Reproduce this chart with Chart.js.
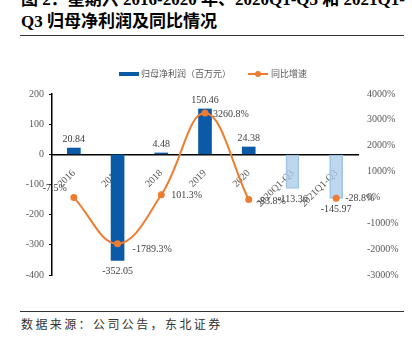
<!DOCTYPE html>
<html>
<head>
<meta charset="utf-8">
<script src="https://cdn.jsdelivr.net/npm/chart.js@4"></script>
<style>
  html, body { margin: 0; padding: 0; background: #fff; }
  body { width: 412px; height: 338px; position: relative; overflow: hidden; }
  .t1, .t2 { position: absolute; left: 21px; white-space: nowrap; font-weight: bold; font-size: 17px; line-height: 17px; color: #000;
    font-family: "Liberation Serif", "Noto Sans CJK SC", serif; }
  .t1 { top: -9px; }
  .t2 { top: 13px; }
  .rule { position: absolute; left: 20px; width: 384px; height: 1px; background: #333; }
  .src { position: absolute; left: 21px; top: 318px; font-size: 12px; line-height: 12px; letter-spacing: 2.4px; color: #333;
    font-family: "Noto Sans CJK SC", sans-serif; white-space: nowrap; }
  #wrap { position: absolute; left: 0; top: 60px; width: 412px; height: 230px; }
</style>
</head>
<body>
<div class="t1">图 2：星期六 2016-2020 年、2020Q1-Q3 和 2021Q1-</div>
<div class="t2">Q3 归母净利润及同比情况</div>
<div class="rule" style="top:35px"></div>
<div id="wrap"><canvas id="chart"></canvas></div>
<div class="rule" style="top:311px"></div>
<div class="src">数据来源：公司公告，东北证券</div>

<script>
// ---------------- DATA ----------------
const categories = ["2016", "2017", "2018", "2019", "2020", "2020Q1-Q3", "2021Q1-Q3"];
const profit = [20.84, -352.05, 4.48, 150.46, 24.38, -113.36, -145.97];   // 百万元
const growth = [-7.5, -1789.3, 101.3, 3260.8, -83.8, null, -28.8];         // %
const profitTicks = [-400, -300, -200, -100, 0, 100, 200];
const growthTicks = [-3000, -2000, -1000, 0, 1000, 2000, 3000, 4000];

const SERIF = "'Liberation Serif', 'Noto Sans CJK SC', serif";
const CJK = "'Noto Sans CJK SC', sans-serif";
const DARK = "#0b5aa8";
const LIGHT = "rgba(167,202,232,0.75)";   // looks like #bdd7ee, lets axis text show through
const ORANGE = "#ed7d31";

// label offsets for the growth points: [dx, dy, align]
const growthLabelPos = [[-7, -9, "right"], [15, 6, "left"], [10, 1, "left"], [8, 1, "left"], [8, 2, "left"], null, [9, 0, "left"]];

// ---------------- PLUGINS ----------------
const valueLabels = {
    id: "valueLabels",
    afterDatasetsDraw(chart) {
        const ctx = chart.ctx;
        ctx.save();
        ctx.font = "10px " + SERIF;
        ctx.fillStyle = "#404040";
        ctx.textBaseline = "middle";

        ctx.textAlign = "center";
        chart.getDatasetMeta(1).data.forEach((bar, i) => {
            const v = profit[i];
            const y = v >= 0 ? bar.y - 9 : bar.y + 11;
            ctx.fillText(v.toFixed(2), bar.x, y);
        });

        chart.getDatasetMeta(0).data.forEach((pt, i) => {
            const p = growthLabelPos[i];
            if (growth[i] === null || !p) return;
            ctx.textAlign = p[2];
            ctx.fillText(growth[i].toFixed(1) + "%", pt.x + p[0], pt.y + p[1]);
        });
        ctx.restore();
    }
};

const legendBox = {
    id: "legendBox",
    afterDraw(chart) {
        const ctx = chart.ctx;
        const ds = chart.data.datasets;
        ctx.save();
        ctx.font = "9px " + CJK;
        ctx.textBaseline = "middle";

        ctx.fillStyle = DARK;
        ctx.fillRect(119, 12, 20, 4);
        ctx.fillStyle = "#595959";
        ctx.fillText(ds[1].label, 141, 14);

        ctx.strokeStyle = ORANGE;
        ctx.lineWidth = 2;
        ctx.beginPath();
        ctx.moveTo(248, 14);
        ctx.lineTo(268, 14);
        ctx.stroke();
        ctx.fillStyle = ORANGE;
        ctx.beginPath();
        ctx.arc(258, 14, 3, 0, Math.PI * 2);
        ctx.fill();
        ctx.fillStyle = "#595959";
        ctx.fillText(ds[0].label, 271, 14);
        ctx.restore();
    }
};

// ---------------- CHART ----------------
new Chart(document.getElementById("chart"), {
    data: {
        labels: categories,
        datasets: [
            {
                type: "line",
                label: "同比增速",
                data: growth,
                yAxisID: "y1",
                order: 0,
                borderColor: ORANGE,
                backgroundColor: ORANGE,
                borderWidth: 2,
                pointRadius: 3.5,
                pointBackgroundColor: ORANGE,
                pointBorderWidth: 0,
                tension: 0.4,
                spanGaps: false
            },
            {
                type: "bar",
                label: "归母净利润（百万元）",
                data: profit,
                yAxisID: "y",
                order: 1,
                barThickness: 13,
                backgroundColor: categories.map((c, i) => i < 5 ? DARK : LIGHT),
                borderColor: categories.map((c, i) => i < 5 ? DARK : "#9dc3e6"),
                borderWidth: categories.map((c, i) => i < 5 ? 0 : 1)
            }
        ]
    },
    options: {
        responsive: true,
        maintainAspectRatio: false,
        animation: false,
        layout: { padding: { top: 34, bottom: 13, left: 0, right: 0 } },
        plugins: {
            legend: { display: false },
            tooltip: { enabled: false }
        },
        scales: {
            x: {
                position: { y: 0 },
                offset: true,
                grid: { display: false },
                border: { display: true, color: "#000", width: 1.5 },
                ticks: {
                    autoSkip: false,
                    minRotation: 45,
                    maxRotation: 45,
                    padding: 5,
                    color: "#595959",
                    font: { family: SERIF, size: 10 }
                }
            },
            y: {
                position: "left",
                min: profitTicks[0],
                max: profitTicks[profitTicks.length - 1],
                afterBuildTicks: s => { s.ticks = profitTicks.map(v => ({ value: v })); },
                afterFit: s => { s.width = 52; },
                grid: { display: true, drawOnChartArea: false, drawTicks: true, tickLength: 3, color: "#000" },
                border: { display: true, color: "#000", width: 1.5 },
                ticks: { padding: 5, color: "#595959", font: { family: SERIF, size: 10 } }
            },
            y1: {
                position: "right",
                min: growthTicks[0],
                max: growthTicks[growthTicks.length - 1],
                afterBuildTicks: s => { s.ticks = growthTicks.map(v => ({ value: v })); },
                afterFit: s => { s.width = 54; },
                grid: { display: false, drawTicks: false },
                border: { display: false },
                ticks: {
                    padding: 9,
                    color: "#595959",
                    font: { family: SERIF, size: 10 },
                    callback: v => v + "%"
                }
            }
        }
    },
    plugins: [valueLabels, legendBox]
});
</script>
</body>
</html>
